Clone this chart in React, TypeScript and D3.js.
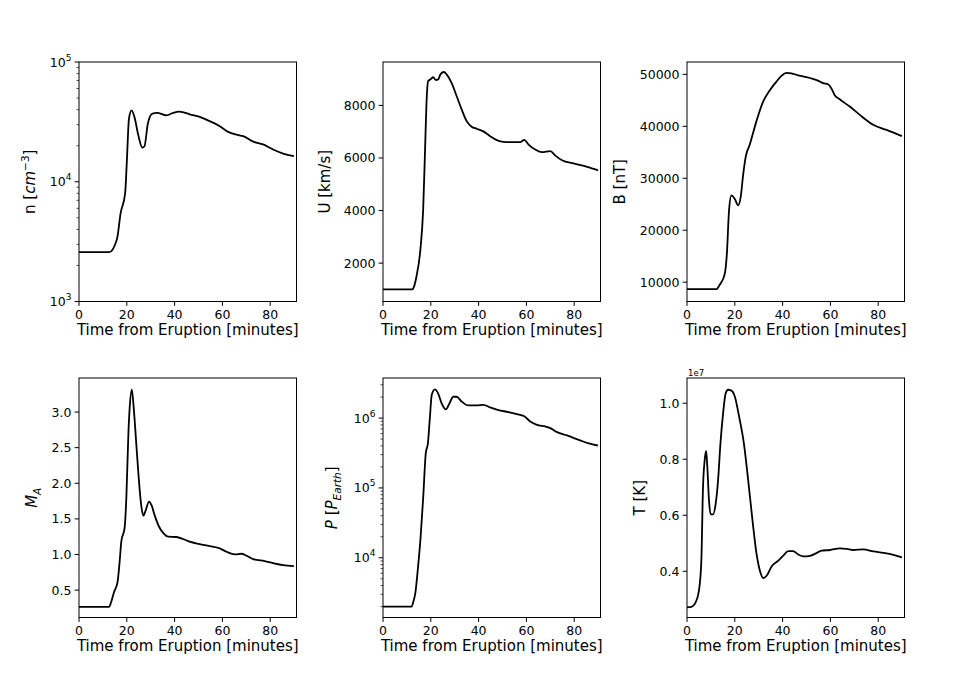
// Six stacked time-series panels (solar wind parameters after an eruption).
import { useEffect, useRef } from "react";
import * as d3 from "d3";

const xTicks = [0, 20, 40, 60, 80];

const nTime = [0, 12.6, 15.9, 17.4, 19.3, 20.1, 20.9, 22.0, 23.2, 24.8, 26.5, 27.4, 28.8, 30.7, 32.7, 36.6, 39.4, 41.9, 43.8, 46.3, 50.5, 53.3, 58.9, 62.4, 65.9, 68.7, 72.9, 77.0, 81.2, 85.4, 89.9];
const nValues = [2580, 2580, 3330, 5450, 8000, 16100, 33700, 39500, 34800, 24500, 19300, 19800, 30600, 37100, 37600, 35900, 37600, 38500, 38000, 36600, 34800, 33000, 29100, 26100, 24700, 24000, 21600, 20500, 18600, 17200, 16400];

const uTime = [0, 12.3, 12.9, 14.0, 15.7, 16.8, 17.6, 18.2, 18.9, 19.9, 21.0, 22.1, 23.1, 24.1, 25.5, 26.6, 28.7, 30.8, 32.9, 35.0, 37.1, 39.2, 42.0, 44.8, 47.6, 50.4, 54.6, 57.4, 59.1, 60.9, 63.7, 66.5, 70.0, 72.1, 74.9, 79.8, 85.4, 90.0];
const uValues = [1000, 1000, 1085, 1490, 2570, 4030, 6320, 8100, 8930, 8990, 9070, 8965, 8990, 9190, 9270, 9180, 8860, 8355, 7850, 7400, 7190, 7110, 7010, 6830, 6680, 6610, 6600, 6600, 6690, 6510, 6320, 6220, 6260, 6090, 5915, 5790, 5660, 5530];

const bTime = [0, 12.3, 13.7, 15.8, 16.7, 17.6, 18.6, 20.0, 21.4, 22.5, 23.4, 24.6, 26.2, 29.0, 31.8, 34.6, 37.4, 39.5, 41.6, 43.7, 46.5, 51.4, 54.8, 56.9, 59.0, 60.4, 61.8, 63.9, 68.1, 72.3, 77.9, 83.5, 89.9];
const bValues = [8650, 8650, 9490, 11600, 15600, 23900, 26700, 26000, 24800, 26500, 30300, 34200, 36400, 40900, 44700, 46900, 48600, 49700, 50300, 50200, 49800, 49300, 48800, 48300, 48100, 47300, 46000, 45200, 43800, 42200, 40300, 39300, 38100];

const maTime = [0, 12.6, 13.4, 14.7, 16.1, 17.0, 17.7, 19.1, 19.8, 20.7, 21.2, 22.1, 22.9, 24.0, 25.0, 26.0, 26.9, 27.9, 29.3, 30.3, 31.7, 33.5, 35.4, 37.3, 40.8, 43.5, 46.3, 50.5, 54.7, 58.9, 61.7, 65.2, 68.0, 70.1, 72.9, 77.7, 81.2, 85.4, 89.9];
const maValues = [0.265, 0.265, 0.326, 0.477, 0.608, 0.9, 1.18, 1.377, 1.79, 2.73, 3.056, 3.314, 3.056, 2.54, 2.07, 1.7, 1.546, 1.62, 1.743, 1.696, 1.546, 1.39, 1.297, 1.25, 1.246, 1.218, 1.18, 1.147, 1.119, 1.086, 1.039, 1.002, 1.011, 0.983, 0.936, 0.908, 0.88, 0.852, 0.838];

const pTime = [0, 12.0, 12.6, 13.6, 14.6, 15.7, 16.8, 17.9, 18.8, 19.6, 20.4, 21.7, 23.0, 24.5, 26.3, 27.7, 29.4, 30.8, 32.9, 35.7, 39.2, 42.0, 44.8, 48.3, 52.5, 56.0, 59.1, 61.6, 64.4, 67.9, 70.0, 72.8, 77.0, 81.9, 86.1, 89.9];
const pValues = [2000, 2000, 2285, 3250, 7030, 18960, 71100, 315000, 438000, 1.0e6, 2.16e6, 2.58e6, 2.28e6, 1.64e6, 1.33e6, 1.59e6, 2.02e6, 2.02e6, 1.73e6, 1.52e6, 1.52e6, 1.55e6, 1.42e6, 1.3e6, 1.22e6, 1.14e6, 1.06e6, 896000, 802000, 759000, 718000, 629000, 564000, 488000, 433000, 405000];

// temperature in units of 1e7 K (axis shows "1e7" offset)
const tTime = [0, 1.8, 3.6, 5.0, 6.0, 6.7, 7.4, 8.0, 8.5, 9.2, 9.9, 10.9, 12.0, 13.0, 14.0, 15.1, 16.2, 17.2, 18.6, 20.0, 21.8, 23.8, 25.6, 27.4, 29.1, 30.5, 31.9, 33.3, 35.4, 38.2, 40.3, 42.4, 44.4, 46.5, 48.9, 51.4, 54.2, 56.3, 59.8, 64.0, 66.8, 69.6, 73.8, 78.0, 82.2, 86.4, 89.9];
const tValues = [0.271, 0.273, 0.289, 0.331, 0.438, 0.701, 0.797, 0.83, 0.773, 0.653, 0.603, 0.603, 0.641, 0.725, 0.857, 0.964, 1.036, 1.048, 1.045, 1.024, 0.952, 0.857, 0.725, 0.582, 0.462, 0.402, 0.376, 0.384, 0.417, 0.438, 0.456, 0.472, 0.472, 0.46, 0.453, 0.455, 0.465, 0.474, 0.476, 0.482, 0.48, 0.476, 0.478, 0.471, 0.466, 0.459, 0.45];

const uTicks = [2000, 4000, 6000, 8000];
const bTicks = [10000, 20000, 30000, 40000, 50000];
const maTicks = [0.5, 1.0, 1.5, 2.0, 2.5, 3.0];
const tTicks = [0.4, 0.6, 0.8, 1.0];

type Seg = { t: string; it?: boolean; shift?: number };
type Panel = {
  time: number[];
  values: number[];
  log: boolean;
  domain: [number, number];
  ticks: number[];
  fmt: (d: number) => string;
  label: Seg[];
  col: number;
  row: number;
  labelOffset: number;
  offsetText?: string;
};

const panels: Panel[] = [
  { time: nTime, values: nValues, log: true, domain: [1e3, 1e5], ticks: [1e3, 1e4, 1e5], fmt: String,
    label: [{ t: "n [" }, { t: "cm", it: true }, { t: "\u22123", shift: -6 }, { t: "]" }], col: 0, row: 0, labelOffset: 44 },
  { time: uTime, values: uValues, log: false, domain: [540, 9650], ticks: uTicks, fmt: String,
    label: [{ t: "U [km/s]" }], col: 1, row: 0, labelOffset: 53 },
  { time: bTime, values: bValues, log: false, domain: [6280, 52380], ticks: bTicks, fmt: String,
    label: [{ t: "B [nT]" }], col: 2, row: 0, labelOffset: 62 },
  { time: maTime, values: maValues, log: false, domain: [0.116, 3.478], ticks: maTicks, fmt: d3.format(".1f"),
    label: [{ t: "M", it: true }, { t: "A", it: true, shift: 4 }], col: 0, row: 1, labelOffset: 42 },
  { time: pTime, values: pValues, log: true, domain: [1396, 3.75e6], ticks: [1e4, 1e5, 1e6], fmt: String,
    label: [{ t: "P", it: true }, { t: " [" }, { t: "P", it: true }, { t: "Earth", it: true, shift: 4 }, { t: "]" }],
    col: 1, row: 1, labelOffset: 46 },
  { time: tTime, values: tValues, log: false, domain: [0.235, 1.09], ticks: tTicks, fmt: d3.format(".1f"),
    label: [{ t: "T [K]" }], col: 2, row: 1, labelOffset: 42, offsetText: "1e7" },
];

const W = 969;
const H = 692;
const colLeft = [79, 383, 687];
const rowTop = [62, 378];
const PW = 217.5;
const PH = 239.5;
const FONT = "DejaVu Sans, sans-serif";

export default function App() {
  const ref = useRef<SVGSVGElement | null>(null);

  useEffect(() => {
    const svg = d3.select(ref.current);
    svg.selectAll("*").remove();
    svg.append("rect").attr("width", W).attr("height", H).attr("fill", "#fff");

    panels.forEach((p) => {
      const g = svg
        .append("g")
        .attr("transform", `translate(${colLeft[p.col]},${rowTop[p.row]})`)
        .attr("font-family", FONT)
        .attr("fill", "#000");

      const x = d3.scaleLinear().domain([0, 91]).range([0, PW]);
      const y = (p.log ? d3.scaleLog() : d3.scaleLinear()).domain(p.domain).range([PH, 0]);

      const line = d3
        .line<number>()
        .x((_, i) => x(p.time[i]))
        .y((d) => y(d))
        .curve(d3.curveMonotoneX);

      g.append("path")
        .datum(p.values)
        .attr("fill", "none")
        .attr("stroke", "#000")
        .attr("stroke-width", 1.8)
        .attr("stroke-linejoin", "round")
        .attr("d", line);

      // frame
      g.append("rect")
        .attr("width", PW)
        .attr("height", PH)
        .attr("fill", "none")
        .attr("stroke", "#000")
        .attr("stroke-width", 1);

      // x ticks
      xTicks.forEach((t) => {
        g.append("line")
          .attr("x1", x(t)).attr("x2", x(t))
          .attr("y1", PH).attr("y2", PH + 4.4)
          .attr("stroke", "#000");
        g.append("text")
          .attr("x", x(t))
          .attr("y", PH + 17)
          .attr("text-anchor", "middle")
          .attr("font-size", 12.5)
          .text(t);
      });

      // minor ticks for log axes
      if (p.log) {
        const lo = Math.floor(Math.log10(p.domain[0]));
        const hi = Math.ceil(Math.log10(p.domain[1]));
        for (let e = lo; e < hi; e++) {
          for (let m = 2; m <= 9; m++) {
            const v = m * Math.pow(10, e);
            if (v < p.domain[0] || v > p.domain[1]) continue;
            g.append("line")
              .attr("x1", -2.5).attr("x2", 0)
              .attr("y1", y(v)).attr("y2", y(v))
              .attr("stroke", "#000")
              .attr("stroke-width", 0.7);
          }
        }
      }

      // y ticks
      p.ticks.forEach((t) => {
        g.append("line")
          .attr("x1", -4.4).attr("x2", 0)
          .attr("y1", y(t)).attr("y2", y(t))
          .attr("stroke", "#000");
        const txt = g.append("text")
          .attr("x", -7.5)
          .attr("y", y(t))
          .attr("dy", "0.36em")
          .attr("text-anchor", "end")
          .attr("font-size", 12.5);
        if (p.log) {
          txt.append("tspan").text("10");
          txt.append("tspan").attr("font-size", 9).attr("dy", -6).text(Math.round(Math.log10(t)));
        } else {
          txt.text(p.fmt(t));
        }
      });

      if (p.offsetText) {
        g.append("text")
          .attr("x", 1)
          .attr("y", -2.5)
          .attr("font-size", 8.5)
          .text(p.offsetText);
      }

      // axis labels
      g.append("text")
        .attr("x", PW / 2)
        .attr("y", PH + 33.5)
        .attr("text-anchor", "middle")
        .attr("font-size", 15)
        .text("Time from Eruption [minutes]");

      const yl = g.append("text")
        .attr("transform", `translate(${-p.labelOffset},${PH / 2}) rotate(-90)`)
        .attr("text-anchor", "middle")
        .attr("dy", "0.35em")
        .attr("font-size", 15);
      let prev = 0;
      p.label.forEach((s) => {
        const shift = s.shift ?? 0;
        const ts = yl.append("tspan")
          .attr("dy", shift - prev)
          .attr("font-size", shift !== 0 ? 10.5 : 15)
          .text(s.t);
        if (s.it) ts.attr("font-style", "italic");
        prev = shift;
      });
    });
  }, []);

  return (
    <svg
      ref={ref}
      width={W}
      height={H}
      style={{ position: "absolute", left: 0, top: 0 }}
    />
  );
}
